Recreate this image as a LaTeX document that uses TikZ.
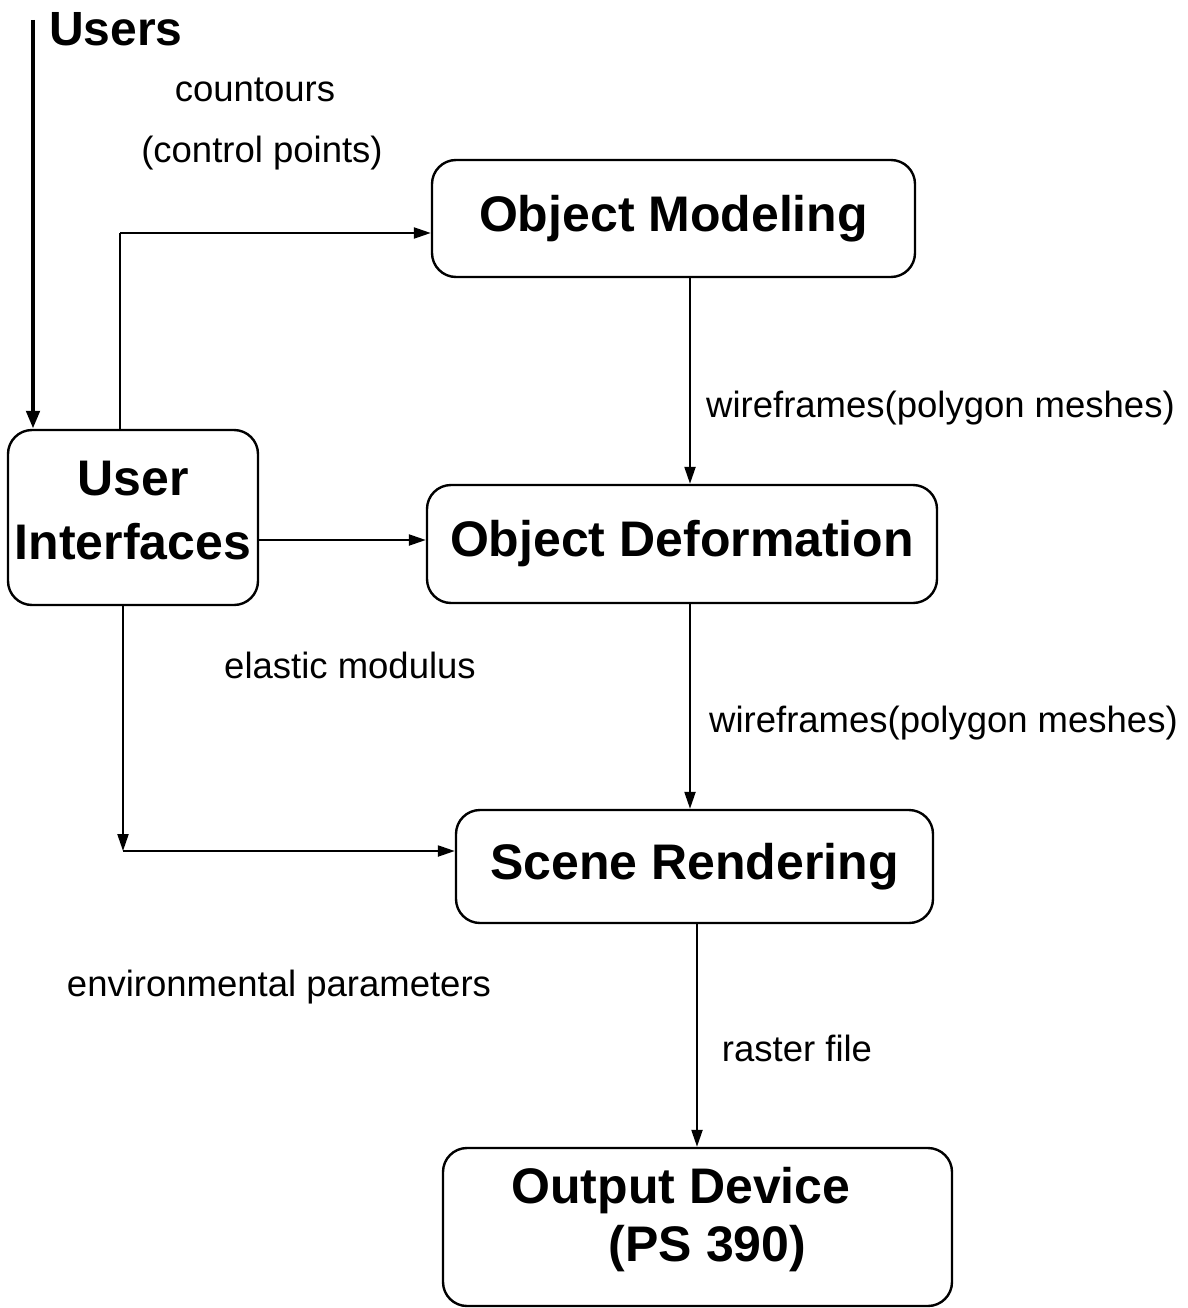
\documentclass[tikz,border=0pt]{standalone}
\usepackage{fontspec}
\setmainfont{Liberation Sans}
\usetikzlibrary{arrows.meta}
\tikzset{
  box/.style={draw, line width=2.4pt, rounded corners=24pt, inner sep=0pt, font=\bfseries\fontsize{50}{64}\selectfont, align=center},
  lbl/.style={font=\fontsize{36.5}{44}\selectfont, inner sep=0pt},
  arr/.style={line width=2.2pt, -{Triangle[length=17pt,width=11pt]}},
  thick arr/.style={line width=4.5pt, -{Triangle[length=18pt,width=13pt]}}
}
\begin{document}
\begin{tikzpicture}[x=1pt,y=-1pt]
\useasboundingbox (0,0) rectangle (1187,1308);
\fill[white] (0,0) rectangle (1187,1308);
% boxes
\node[box, minimum width=250pt, minimum height=175pt, text depth=15pt] (ui) at (133,517.5) {User\\Interfaces};
\node[box, minimum width=483pt, minimum height=117pt] (om) at (673.5,218.5) {Object Modeling};
\node[box, minimum width=510pt, minimum height=118pt] (od) at (682,544) {Object Deformation};
\node[box, minimum width=477pt, minimum height=113pt] (sr) at (694.5,866.5) {Scene Rendering};
\node[box, minimum width=509pt, minimum height=158pt, text depth=25pt, font=\bfseries\fontsize{50}{58}\selectfont] (out) at (697.5,1227) {Output Device\hspace*{33pt}\\\hspace*{20pt}(PS 390)};
% users
\node[font=\bfseries\fontsize{48}{56}\selectfont, anchor=west, inner sep=0pt] (users) at (49,29) {Users};
\coordinate (u) at (33,20);
\draw[thick arr] (u) -- (ui.north -| u);
% labels
\node[lbl] (l1) at (255,90) {countours};
\node[lbl] (l2) at (262,153) {(control points)};
\node[lbl, anchor=west] (l3) at (706,408) {wireframes(polygon meshes)};
\node[lbl, anchor=west] (l4) at (709,723) {wireframes(polygon meshes)};
\node[lbl] (l5) at (350,665) {elastic modulus};
\node[lbl] (l6) at (279,987) {environmental parameters};
\node[lbl] (l7) at (797,1048) {raster file};
% connectors
\coordinate (c1) at (120,233);
\draw[line width=2.2pt] (ui.north -| c1) -- (c1);
\draw[arr] (c1) -- (c1 -| om.west);
\coordinate (c2) at (0,540);
\draw[arr] (ui.east |- c2) -- (od.west |- c2);
\coordinate (c3) at (690,0);
\draw[arr] (om.south -| c3) -- (od.north -| c3);
\draw[arr] (od.south -| c3) -- (sr.north -| c3);
\coordinate (c5) at (697,0);
\draw[arr] (sr.south -| c5) -- (out.north -| c5);
\coordinate (c4) at (123,851);
\draw[arr] (ui.south -| c4) -- (c4);
\draw[arr] (c4) -- (c4 -| sr.west);
\end{tikzpicture}
\end{document}
